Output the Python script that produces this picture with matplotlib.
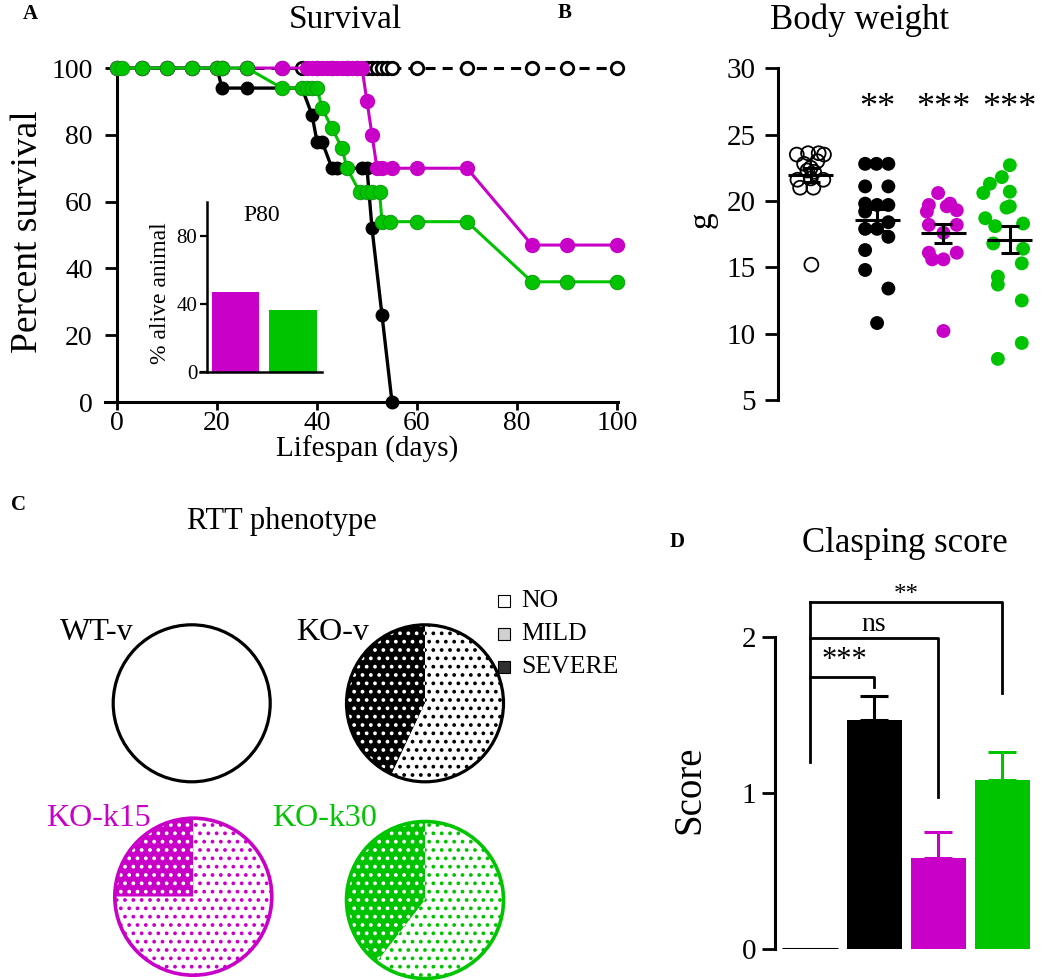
import matplotlib
matplotlib.use('Agg')
import matplotlib.pyplot as plt
from matplotlib.patches import Circle, Rectangle
import numpy as np

plt.rcParams['font.family'] = 'Liberation Serif'
plt.rcParams['hatch.linewidth'] = 1.5

MAG = '#c800c8'
GRN = '#00c400'
W, H = 1050, 980

###-A: SURVIVAL-###
wt_days = [0, 5, 10, 15, 20, 21, 26, 33, 37, 40, 43, 46, 48, 50, 51, 52, 53, 54, 55, 60, 70, 83, 90, 100]
wt_surv = [100, 100, 100, 100, 100, 100, 100, 100, 100, 100, 100, 100, 100, 100, 100, 100, 100, 100, 100, 100, 100, 100, 100, 100]
kov_days = [0, 5, 10, 15, 20, 21, 26, 37, 39, 40, 41, 43, 44, 49, 50, 51, 53, 55]
kov_surv = [100, 100, 100, 100, 100, 94, 94, 94, 86, 78, 78, 70, 70, 70, 70, 52, 26, 0]
k15_days = [0, 5, 10, 15, 20, 21, 26, 33, 38, 39, 40, 41, 42, 43, 44, 45, 46, 47, 48, 49, 50, 51, 52, 53, 55, 60, 70, 83, 90, 100]
k15_surv = [100, 100, 100, 100, 100, 100, 100, 100, 100, 100, 100, 100, 100, 100, 100, 100, 100, 100, 100, 100,
            90, 80, 70, 70, 70, 70, 70, 47, 47, 47]
k30_days = [0, 1, 5, 10, 15, 20, 21, 26, 33, 37, 38, 39, 40, 41, 43, 45, 46, 48.5, 50, 51, 52.5, 53, 54.6, 60, 70, 83, 90, 100]
k30_surv = [100, 100, 100, 100, 100, 100, 100, 100, 94, 94, 94, 94, 94, 88, 82, 76, 70, 63, 63, 63, 63,
            54, 54, 54, 54, 36, 36, 36]
p80_alive = [47, 36]  # KO-k15, KO-k30

###-B: BODY WEIGHT-###
groups = ['WT-v', 'KO-v', 'KO-k15', 'KO-k30']
wt_g = [23.5, 23.6, 23.6, 23.5, 23.0, 22.8, 22.5, 22.3, 22.2, 21.6, 21.7, 21.6, 21.0, 21.0, 15.2]
wt_dx = [-0.21, -0.04, 0.12, 0.2, 0.1, -0.1, 0.0, -0.05, 0.05, -0.2, 0.0, 0.19, -0.16, 0.04, 0.01]
kov_g = [22.8, 22.8, 22.8, 21.1, 21.1, 19.8, 19.7, 19.7, 19.2, 18.4, 17.9, 17.9, 17.3, 16.3, 14.8, 13.4, 10.8]
kov_dx = [-0.18, -0.01, 0.17, -0.18, 0.17, -0.18, 0.0, 0.17, -0.18, 0.17, -0.18, 0.0, 0.17, -0.18, -0.18, 0.17, 0.0]
k15_g = [20.6, 19.7, 19.8, 19.6, 19.3, 19.2, 18.2, 18.2, 17.6, 16.1, 16.1, 15.6, 15.6, 10.2]
k15_dx = [-0.08, -0.22, 0.1, 0.05, 0.2, -0.25, -0.22, 0.2, 0.0, -0.22, 0.2, -0.17, 0.0, 0.0]
k30_g = [22.7, 21.8, 21.3, 20.6, 20.7, 19.6, 19.5, 18.7, 18.1, 18.3, 16.8, 16.4, 15.3, 14.3, 13.7, 12.5, 9.3, 8.1]
k30_dx = [0.0, -0.12, -0.3, -0.4, 0.0, 0.0, -0.05, -0.37, -0.22, 0.2, -0.25, 0.2, 0.18, -0.18, -0.18, 0.18, 0.18, -0.18]
weight_stars = ['', '**', '***', '***']

###-C: RTT PHENOTYPE (fractions NO, MILD, SEVERE)-###
pheno_labels = ['NO', 'MILD', 'SEVERE']
pheno = {'WT-v': [1.0, 0.0, 0.0],
         'KO-v': [0.0, 0.57, 0.43],
         'KO-k15': [0.0, 0.75, 0.25],
         'KO-k30': [0.0, 0.605, 0.395]}

###-D: CLASPING SCORE-###
clasp_mean = [0.0, 1.47, 0.58, 1.08]
clasp_sem = [0.0, 0.15, 0.17, 0.18]
clasp_sig = ['***', 'ns', '**']

colors = ['black', 'black', MAG, GRN]


def px_box(x0, y0, x1, y1):
    return [x0 / W, 1 - y1 / H, (x1 - x0) / W, (y1 - y0) / H]


fig = plt.figure(figsize=(10.5, 9.8), dpi=100)

# ---------- A ----------
axA = fig.add_axes(px_box(105, 48, 618, 415.4))
axA.set_xlim(-2.4, 100.2)
axA.set_ylim(-4, 106)
for s in ['top', 'right']:
    axA.spines[s].set_visible(False)
axA.spines['left'].set_position(('data', 0))
axA.spines['left'].set_bounds(0, 100)
axA.spines['bottom'].set_position(('data', 0))
for s in ['left', 'bottom']:
    axA.spines[s].set_linewidth(2.2)
axA.set_xticks([0, 20, 40, 60, 80, 100])
axA.set_yticks([0, 20, 40, 60, 80, 100])
axA.tick_params(axis='x', length=6, width=2, labelsize=20, pad=0.5)
axA.tick_params(axis='y', length=8.6, width=2, labelsize=20, pad=9)
axA.patch.set_alpha(0)

axA.plot(wt_days, wt_surv, color='black', lw=2.2, dashes=(3.3, 2.3), marker='o', ms=9,
         mfc='white', mec='black', mew=2, clip_on=False, zorder=2)
axA.plot(kov_days, kov_surv, color='black', lw=2.4, marker='o', ms=9, mec='black', clip_on=False, zorder=3)
axA.plot(k15_days, k15_surv, color=MAG, lw=2.2, marker='o', ms=10, mec=MAG, clip_on=False, zorder=4)
axA.plot(k30_days, k30_surv, color=GRN, lw=2.2, marker='o', ms=10.5, mec='#109010', mew=0.6,
         clip_on=False, zorder=5)

fig.text(345 / W, 1 - 20 / H, 'Survival', fontsize=24, ha='center', va='center')
fig.text(28 / W, 1 - 232 / H, 'Percent survival', fontsize=27, rotation=90, ha='center', va='center')
fig.text(367 / W, 1 - 449 / H, 'Lifespan (days)', fontsize=21, ha='center', va='center')
fig.text(30 / W, 1 - 14 / H, 'A', fontsize=15, fontweight='bold', ha='center', va='center')

# inset P80
axI = fig.add_axes(px_box(200, 201.7, 321.7, 371.7))
axI.set_xlim(-0.622, 1.5)
axI.set_ylim(0, 100)
axI.bar([0, 1], p80_alive, width=0.83, color=[MAG, GRN])
for s in ['top', 'right']:
    axI.spines[s].set_visible(False)
axI.spines['left'].set_position(('data', -0.5))
for s in ['left', 'bottom']:
    axI.spines[s].set_linewidth(1.8)
axI.set_xticks([])
axI.set_yticks([0, 40, 80])
axI.tick_params(axis='y', length=5, width=1.6, labelsize=15, pad=2)
axI.patch.set_alpha(0)
axI.text(0.46, 92, 'P80', fontsize=17, ha='center', va='center')
fig.text(160 / W, 1 - 293 / H, '% alive animal', fontsize=17, rotation=90, ha='center', va='center')

# ---------- B ----------
axB = fig.add_axes(px_box(778.2, 68.3, 1043, 400))
axB.set_xlim(-0.49, 3.5)
axB.set_ylim(5, 30)
for s in ['top', 'right', 'bottom']:
    axB.spines[s].set_visible(False)
axB.spines['left'].set_linewidth(2.2)
axB.set_xticks([])
axB.set_yticks([5, 10, 15, 20, 25, 30])
axB.tick_params(axis='y', length=9.4, width=2, labelsize=21, pad=7)
axB.patch.set_alpha(0)

vals = [wt_g, kov_g, k15_g, k30_g]
dxs = [wt_dx, kov_dx, k15_dx, k30_dx]
for i, (v, dx) in enumerate(zip(vals, dxs)):
    xs = i + np.array(dx)
    if i == 0:
        axB.scatter(xs, v, s=100, facecolors='none', edgecolors='black', linewidths=1.3, clip_on=False, zorder=3)
    else:
        axB.scatter(xs, v, s=100, color=colors[i], edgecolors='none', clip_on=False, zorder=3)
    m = np.mean(v)
    sem = np.std(v, ddof=1) / np.sqrt(len(v))
    axB.hlines(m, i - 0.34, i + 0.34, color='black', lw=2.2, zorder=5)
    axB.errorbar(i, m, yerr=sem, fmt='none', ecolor='black', elinewidth=2.2, capsize=6.5, capthick=2.2, zorder=5)
    if weight_stars[i]:
        axB.text(i, 27, weight_stars[i], fontsize=26, ha='center', va='center')

fig.text(860 / W, 1 - 20 / H, 'Body weight', fontsize=25, ha='center', va='center')
fig.text(702 / W, 1 - 220 / H, 'g', fontsize=24, rotation=90, ha='center', va='center')
fig.text(565 / W, 1 - 13 / H, 'B', fontsize=15, fontweight='bold', ha='center', va='center')

# ---------- C ----------
axC = fig.add_axes([0, 0, 650 / W, 510 / H])
pie_pos = {'WT-v': (191.7, 980 - 703.3), 'KO-v': (425, 980 - 703.3),
           'KO-k15': (193.3, 980 - 896.7), 'KO-k30': (425, 980 - 900)}
pie_col = {'WT-v': 'black', 'KO-v': 'black', 'KO-k15': MAG, 'KO-k30': GRN}
R = 78.5
for name, frac in pheno.items():
    cx, cy = pie_pos[name]
    col = pie_col[name]
    # order: SEVERE first, counter-clockwise from the top, then MILD, then NO
    wedges, _ = axC.pie([frac[2], frac[1], frac[0]], startangle=90, center=(cx, cy), radius=R)
    for w, kind in zip(wedges, ['SEVERE', 'MILD', 'NO']):
        w.set_linewidth(0)
        if kind == 'SEVERE':
            w.set_facecolor(col)
            w.set_edgecolor('white')
            w.set_hatch('..')
        elif kind == 'MILD':
            w.set_facecolor('white')
            w.set_edgecolor(col)
            w.set_hatch('..')
        else:
            w.set_facecolor('white')
            w.set_edgecolor('white')
    axC.add_patch(Circle((cx, cy), R, fill=False, ec=col, lw=2.3 if col == 'black' else 2.6, zorder=5))

axC.set_xlim(0, 650)
axC.set_ylim(0, 510)
axC.set_aspect('auto')
axC.axis('off')

axC.text(60, 980 - 632, 'WT-v', fontsize=23, ha='left', va='center')
axC.text(296, 980 - 632, 'KO-v', fontsize=23, ha='left', va='center')
axC.text(46, 980 - 818, 'KO-k15', fontsize=23, ha='left', va='center', color=MAG)
axC.text(272, 980 - 818, 'KO-k30', fontsize=23, ha='left', va='center', color=GRN)

leg_fc = ['white', '#d0d0d0', '#303030']
for k, (lab, fc) in enumerate(zip(pheno_labels, leg_fc)):
    yc = 980 - (601 + 33 * k)
    axC.add_patch(Rectangle((498, yc - 6), 12, 12, facecolor=fc, edgecolor='black', lw=0.8))
    axC.text(521, yc, lab, fontsize=18.5, ha='left', va='center')

fig.text(282 / W, 1 - 522 / H, 'RTT phenotype', fontsize=22, ha='center', va='center')
fig.text(18 / W, 1 - 505 / H, 'C', fontsize=15, fontweight='bold', ha='center', va='center')

# ---------- D ----------
axD = fig.add_axes(px_box(775, 590, 1040.8, 949))
axD.set_xlim(-0.546, 3.6)
axD.set_ylim(0, 2.3)
for s in ['top', 'right', 'bottom']:
    axD.spines[s].set_visible(False)
axD.spines['left'].set_bounds(0, 2)
axD.spines['left'].set_linewidth(2.2)
axD.set_xticks([])
axD.set_yticks([0, 1, 2])
axD.tick_params(axis='y', length=9.4, width=2, labelsize=21, pad=4)
axD.patch.set_alpha(0)

axD.bar(range(4), clasp_mean, width=0.86, color=colors, edgecolor=colors, linewidth=[2.2, 0, 0, 0])
for i in range(1, 4):
    axD.errorbar(i, clasp_mean[i], yerr=[[0], [clasp_sem[i]]], fmt='none', ecolor=colors[i],
                 elinewidth=2.2, capsize=10, capthick=2.2)

br_top = [1.745, 1.99, 2.22]
br_end = [1.68, 0.976, 1.64]
sig_pos = [(0.53, 1.85, 22), (0.99, 2.08, 20), (1.5, 2.27, 18)]
axD.plot([0, 0], [1.2, br_top[-1]], color='black', lw=2, clip_on=False)
for j in range(3):
    axD.plot([0, j + 1, j + 1], [br_top[j], br_top[j], br_end[j]], color='black', lw=2, clip_on=False)
    sx, sy, fs = sig_pos[j]
    axD.text(sx, sy, clasp_sig[j], fontsize=fs, ha='center', va='center', clip_on=False)

fig.text(905 / W, 1 - 543 / H, 'Clasping score', fontsize=25, ha='center', va='center')
fig.text(690 / W, 1 - 790 / H, 'Score', fontsize=28, rotation=90, ha='center', va='center')
fig.text(677 / W, 1 - 542 / H, 'D', fontsize=15, fontweight='bold', ha='center', va='center')

fig.savefig('out.png', dpi=100)
